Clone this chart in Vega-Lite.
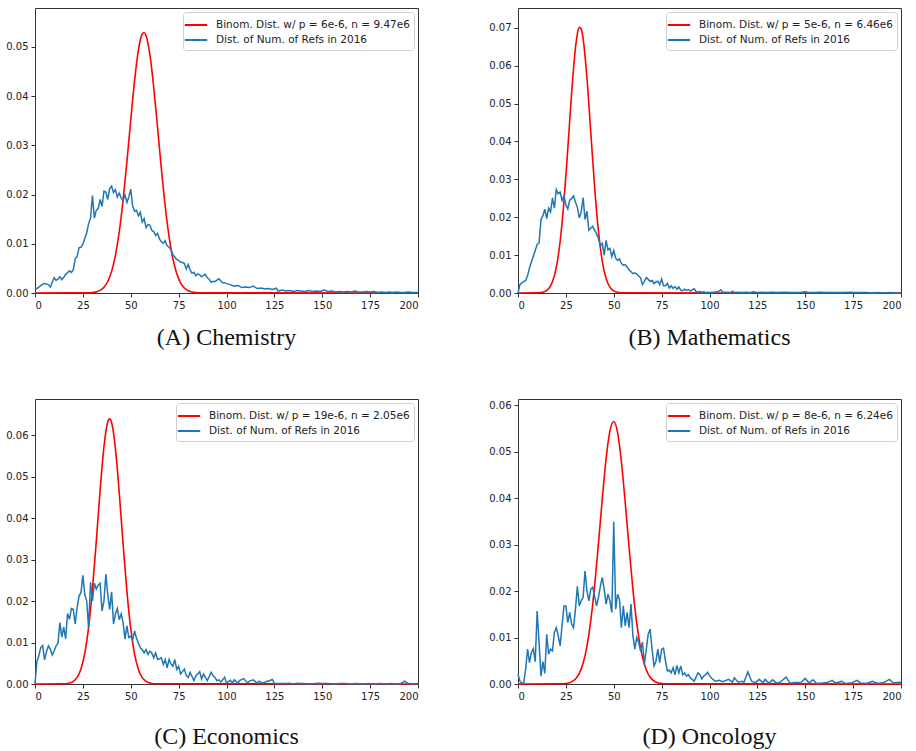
{
"$schema": "https://vega.github.io/schema/vega-lite/v6.json",
"background": "white",
"padding": {"left": 5, "top": 7, "right": 5, "bottom": 2},
"datasets": {
"aRed": [{"k":0,"v":0},{"k":28,"v":0.00004},{"k":30,"v":0.0001},{"k":32,"v":0.00023},{"k":34,"v":0.00054},{"k":36,"v":0.00117},{"k":38,"v":0.00234},{"k":40,"v":0.00439},{"k":42,"v":0.00766},{"k":44,"v":0.01246},{"k":46,"v":0.01889},{"k":48,"v":0.02669},{"k":50,"v":0.03514},{"k":52,"v":0.04314},{"k":54,"v":0.04934},{"k":56,"v":0.05261},{"k":57,"v":0.05291},{"k":58,"v":0.05228},{"k":60,"v":0.04842},{"k":62,"v":0.04179},{"k":64,"v":0.03362},{"k":66,"v":0.02521},{"k":68,"v":0.01762},{"k":70,"v":0.01147},{"k":72,"v":0.00697},{"k":74,"v":0.00394},{"k":76,"v":0.00208},{"k":78,"v":0.00102},{"k":80,"v":0.00047},{"k":82,"v":0.0002},{"k":84,"v":0.00008},{"k":86,"v":0.00003},{"k":200,"v":0}],
"bRed": [{"k":0,"v":0},{"k":12,"v":0.00012},{"k":14,"v":0.00039},{"k":16,"v":0.00115},{"k":18,"v":0.00296},{"k":20,"v":0.00675},{"k":22,"v":0.01359},{"k":24,"v":0.02416},{"k":26,"v":0.03798},{"k":28,"v":0.05273},{"k":30,"v":0.06468},{"k":31,"v":0.06839},{"k":32,"v":0.0701},{"k":33,"v":0.06967},{"k":34,"v":0.06713},{"k":36,"v":0.05679},{"k":38,"v":0.04246},{"k":40,"v":0.02804},{"k":42,"v":0.01636},{"k":44,"v":0.00844},{"k":46,"v":0.00384},{"k":48,"v":0.00154},{"k":50,"v":0.00055},{"k":52,"v":0.00017},{"k":54,"v":0.00005},{"k":200,"v":0}],
"cRed": [{"k":0,"v":0},{"k":16,"v":0.00007},{"k":18,"v":0.00023},{"k":20,"v":0.00064},{"k":22,"v":0.0016},{"k":24,"v":0.00363},{"k":26,"v":0.00743},{"k":28,"v":0.01372},{"k":30,"v":0.02286},{"k":32,"v":0.03438},{"k":34,"v":0.04667},{"k":36,"v":0.05716},{"k":38,"v":0.06318},{"k":39,"v":0.06392},{"k":40,"v":0.06302},{"k":42,"v":0.05673},{"k":44,"v":0.04607},{"k":46,"v":0.03377},{"k":48,"v":0.02234},{"k":50,"v":0.01333},{"k":52,"v":0.00719},{"k":54,"v":0.00349},{"k":56,"v":0.00153},{"k":58,"v":0.00061},{"k":60,"v":0.00022},{"k":62,"v":0.00007},{"k":200,"v":0}],
"dRed": [{"k":0,"v":0},{"k":24,"v":0.00007},{"k":26,"v":0.00018},{"k":28,"v":0.00046},{"k":30,"v":0.00106},{"k":32,"v":0.00227},{"k":34,"v":0.00446},{"k":36,"v":0.00811},{"k":38,"v":0.01361},{"k":40,"v":0.02108},{"k":42,"v":0.03013},{"k":44,"v":0.03975},{"k":46,"v":0.04841},{"k":48,"v":0.05443},{"k":50,"v":0.05647},{"k":52,"v":0.05408},{"k":54,"v":0.0478},{"k":56,"v":0.03899},{"k":58,"v":0.02937},{"k":60,"v":0.02041},{"k":62,"v":0.0131},{"k":64,"v":0.00775},{"k":66,"v":0.00424},{"k":68,"v":0.00214},{"k":70,"v":0.001},{"k":72,"v":0.00043},{"k":74,"v":0.00017},{"k":76,"v":0.00006},{"k":200,"v":0}],
"aBlue": [{"k":0,"v":0.0007},{"k":1,"v":0.0009},{"k":2,"v":0.0012},{"k":3,"v":0.0015},{"k":4,"v":0.0018},{"k":5,"v":0.0019},{"k":6,"v":0.0018},{"k":7,"v":0.0017},{"k":8,"v":0.0012},{"k":9,"v":0.0022},{"k":10,"v":0.0031},{"k":11,"v":0.0026},{"k":12,"v":0.0028},{"k":13,"v":0.0033},{"k":14,"v":0.0027},{"k":15,"v":0.0032},{"k":16,"v":0.0038},{"k":17,"v":0.0041},{"k":18,"v":0.0045},{"k":19,"v":0.0042},{"k":20,"v":0.0047},{"k":21,"v":0.007},{"k":22,"v":0.0074},{"k":23,"v":0.0092},{"k":24,"v":0.0093},{"k":25,"v":0.0099},{"k":26,"v":0.0111},{"k":27,"v":0.0122},{"k":28,"v":0.0141},{"k":29,"v":0.0152},{"k":30,"v":0.0198},{"k":31,"v":0.0152},{"k":32,"v":0.0168},{"k":33,"v":0.0172},{"k":34,"v":0.019},{"k":35,"v":0.0176},{"k":36,"v":0.0207},{"k":37,"v":0.0205},{"k":38,"v":0.019},{"k":39,"v":0.0212},{"k":40,"v":0.0217},{"k":41,"v":0.0204},{"k":42,"v":0.021},{"k":43,"v":0.0195},{"k":44,"v":0.0203},{"k":45,"v":0.0193},{"k":46,"v":0.0188},{"k":47,"v":0.0199},{"k":48,"v":0.0184},{"k":49,"v":0.0195},{"k":50,"v":0.0211},{"k":51,"v":0.0176},{"k":52,"v":0.0166},{"k":53,"v":0.0168},{"k":54,"v":0.0157},{"k":55,"v":0.0164},{"k":56,"v":0.0144},{"k":57,"v":0.0151},{"k":58,"v":0.0133},{"k":59,"v":0.0139},{"k":60,"v":0.0138},{"k":61,"v":0.0127},{"k":62,"v":0.0125},{"k":63,"v":0.0117},{"k":64,"v":0.0121},{"k":65,"v":0.011},{"k":66,"v":0.0104},{"k":67,"v":0.0101},{"k":68,"v":0.0106},{"k":69,"v":0.0096},{"k":70,"v":0.0093},{"k":71,"v":0.0088},{"k":72,"v":0.0078},{"k":73,"v":0.0073},{"k":74,"v":0.0068},{"k":75,"v":0.0066},{"k":76,"v":0.0063},{"k":77,"v":0.0062},{"k":78,"v":0.006},{"k":79,"v":0.0049},{"k":80,"v":0.0058},{"k":81,"v":0.0047},{"k":82,"v":0.004},{"k":83,"v":0.0042},{"k":84,"v":0.0035},{"k":85,"v":0.0039},{"k":86,"v":0.0037},{"k":87,"v":0.0033},{"k":88,"v":0.0036},{"k":89,"v":0.0038},{"k":90,"v":0.0031},{"k":91,"v":0.0028},{"k":92,"v":0.0022},{"k":93,"v":0.0024},{"k":94,"v":0.0023},{"k":95,"v":0.0026},{"k":96,"v":0.0029},{"k":97,"v":0.0025},{"k":98,"v":0.0021},{"k":99,"v":0.0021},{"k":100,"v":0.0019},{"k":102,"v":0.0017},{"k":104,"v":0.0014},{"k":106,"v":0.0015},{"k":108,"v":0.0011},{"k":110,"v":0.0012},{"k":112,"v":0.0011},{"k":114,"v":0.0014},{"k":116,"v":0.0009},{"k":118,"v":0.001},{"k":120,"v":0.0008},{"k":122,"v":0.0009},{"k":124,"v":0.0007},{"k":126,"v":0.001},{"k":127,"v":0.0004},{"k":129,"v":0.0006},{"k":131,"v":0.0004},{"k":133,"v":0.0005},{"k":135,"v":0.0003},{"k":137,"v":0.0005},{"k":139,"v":0.0004},{"k":141,"v":0.0003},{"k":143,"v":0.0005},{"k":145,"v":0.0003},{"k":147,"v":0.0004},{"k":149,"v":0.0003},{"k":151,"v":0.0006},{"k":153,"v":0.0003},{"k":155,"v":0.0004},{"k":157,"v":0.0002},{"k":159,"v":0.0003},{"k":161,"v":0.0002},{"k":163,"v":0.0003},{"k":165,"v":0.0002},{"k":167,"v":0.0004},{"k":169,"v":0.0002},{"k":171,"v":0.0002},{"k":173,"v":0.0003},{"k":175,"v":0.0002},{"k":177,"v":0.0003},{"k":179,"v":0.0001},{"k":181,"v":0.0002},{"k":183,"v":0.0001},{"k":185,"v":0.0002},{"k":187,"v":0.0001},{"k":189,"v":0.0002},{"k":191,"v":0.0001},{"k":193,"v":0.0001},{"k":195,"v":0.0002},{"k":197,"v":0.0001},{"k":199,"v":0.0001},{"k":200,"v":0.0001}],
"bBlue": [{"k":0,"v":0},{"k":1,"v":0.0022},{"k":2,"v":0.0027},{"k":3,"v":0.003},{"k":4,"v":0.0033},{"k":5,"v":0.0046},{"k":6,"v":0.0066},{"k":7,"v":0.0082},{"k":8,"v":0.0097},{"k":9,"v":0.0112},{"k":10,"v":0.0128},{"k":11,"v":0.0132},{"k":12,"v":0.0193},{"k":13,"v":0.0204},{"k":14,"v":0.0221},{"k":15,"v":0.0196},{"k":16,"v":0.0224},{"k":17,"v":0.0214},{"k":18,"v":0.0251},{"k":19,"v":0.0224},{"k":20,"v":0.0273},{"k":21,"v":0.0262},{"k":22,"v":0.0266},{"k":23,"v":0.0244},{"k":24,"v":0.0256},{"k":25,"v":0.0233},{"k":26,"v":0.0222},{"k":27,"v":0.0245},{"k":28,"v":0.0249},{"k":29,"v":0.0256},{"k":30,"v":0.024},{"k":31,"v":0.0226},{"k":32,"v":0.0198},{"k":33,"v":0.0214},{"k":34,"v":0.0252},{"k":35,"v":0.0194},{"k":36,"v":0.0216},{"k":37,"v":0.0166},{"k":38,"v":0.0171},{"k":39,"v":0.0176},{"k":40,"v":0.0166},{"k":41,"v":0.0156},{"k":42,"v":0.0144},{"k":43,"v":0.0124},{"k":44,"v":0.0131},{"k":45,"v":0.01},{"k":46,"v":0.0139},{"k":47,"v":0.0114},{"k":48,"v":0.0118},{"k":49,"v":0.0096},{"k":50,"v":0.0112},{"k":51,"v":0.0092},{"k":52,"v":0.0086},{"k":53,"v":0.009},{"k":54,"v":0.0078},{"k":55,"v":0.0073},{"k":56,"v":0.0075},{"k":57,"v":0.0068},{"k":58,"v":0.0061},{"k":59,"v":0.0056},{"k":60,"v":0.0051},{"k":61,"v":0.0053},{"k":62,"v":0.005},{"k":63,"v":0.0045},{"k":64,"v":0.004},{"k":65,"v":0.0022},{"k":66,"v":0.0031},{"k":67,"v":0.0041},{"k":68,"v":0.0036},{"k":69,"v":0.0031},{"k":70,"v":0.0033},{"k":71,"v":0.0025},{"k":72,"v":0.0029},{"k":73,"v":0.0031},{"k":74,"v":0.0022},{"k":75,"v":0.0037},{"k":76,"v":0.0019},{"k":77,"v":0.0019},{"k":78,"v":0.0025},{"k":79,"v":0.0013},{"k":80,"v":0.0019},{"k":81,"v":0.0012},{"k":82,"v":0.0017},{"k":83,"v":0.001},{"k":84,"v":0.0016},{"k":85,"v":0.0007},{"k":86,"v":0.0006},{"k":87,"v":0.001},{"k":88,"v":0.0007},{"k":89,"v":0.0009},{"k":90,"v":0.0005},{"k":91,"v":0.0008},{"k":92,"v":0.0011},{"k":93,"v":0.0004},{"k":94,"v":0.0003},{"k":95,"v":0.0004},{"k":96,"v":0.0002},{"k":97,"v":0.0003},{"k":98,"v":0.0001},{"k":99,"v":0.0002},{"k":100,"v":0.0001},{"k":102,"v":0.0002},{"k":104,"v":0.0003},{"k":106,"v":0.0008},{"k":107,"v":0.0002},{"k":109,"v":0.0002},{"k":111,"v":0.0001},{"k":112,"v":0.0005},{"k":113,"v":0.0001},{"k":115,"v":0.0002},{"k":117,"v":0.0001},{"k":119,"v":0.0002},{"k":121,"v":0.0001},{"k":123,"v":0.0003},{"k":125,"v":0.0001},{"k":127,"v":0.0002},{"k":130,"v":0.0001},{"k":133,"v":0.0002},{"k":136,"v":0.0001},{"k":139,"v":0.0002},{"k":142,"v":0.0001},{"k":145,"v":0.0001},{"k":148,"v":0.0002},{"k":150,"v":0.0003},{"k":152,"v":0.0001},{"k":155,"v":0.0001},{"k":158,"v":0.0002},{"k":161,"v":0.0001},{"k":164,"v":0.0001},{"k":167,"v":0.0001},{"k":170,"v":0.0001},{"k":173,"v":0.0002},{"k":176,"v":0.0001},{"k":179,"v":0.0001},{"k":182,"v":0.0001},{"k":185,"v":0},{"k":188,"v":0.0001},{"k":191,"v":0},{"k":194,"v":0.0001},{"k":197,"v":0},{"k":200,"v":0}],
"cBlue": [{"k":0,"v":0},{"k":1,"v":0.0055},{"k":2,"v":0.0068},{"k":3,"v":0.0088},{"k":4,"v":0.0093},{"k":5,"v":0.0058},{"k":6,"v":0.0078},{"k":7,"v":0.0092},{"k":8,"v":0.0084},{"k":9,"v":0.007},{"k":10,"v":0.008},{"k":11,"v":0.0092},{"k":12,"v":0.0098},{"k":13,"v":0.0148},{"k":14,"v":0.0113},{"k":15,"v":0.0137},{"k":16,"v":0.0109},{"k":17,"v":0.017},{"k":18,"v":0.0156},{"k":19,"v":0.0182},{"k":20,"v":0.018},{"k":21,"v":0.0145},{"k":22,"v":0.0184},{"k":23,"v":0.0212},{"k":24,"v":0.022},{"k":25,"v":0.0262},{"k":26,"v":0.0215},{"k":27,"v":0.02},{"k":28,"v":0.0135},{"k":29,"v":0.0245},{"k":30,"v":0.02},{"k":31,"v":0.0243},{"k":32,"v":0.0229},{"k":33,"v":0.0238},{"k":34,"v":0.0243},{"k":35,"v":0.0176},{"k":36,"v":0.02},{"k":37,"v":0.0265},{"k":38,"v":0.0215},{"k":39,"v":0.018},{"k":40,"v":0.0222},{"k":41,"v":0.0145},{"k":42,"v":0.0169},{"k":43,"v":0.0182},{"k":44,"v":0.0155},{"k":45,"v":0.0169},{"k":46,"v":0.0148},{"k":47,"v":0.0108},{"k":48,"v":0.014},{"k":49,"v":0.0112},{"k":50,"v":0.0115},{"k":51,"v":0.0106},{"k":52,"v":0.0128},{"k":53,"v":0.011},{"k":54,"v":0.0099},{"k":55,"v":0.0087},{"k":56,"v":0.0083},{"k":57,"v":0.0075},{"k":58,"v":0.0083},{"k":59,"v":0.0071},{"k":60,"v":0.0079},{"k":61,"v":0.0075},{"k":62,"v":0.0063},{"k":63,"v":0.0075},{"k":64,"v":0.0059},{"k":65,"v":0.0061},{"k":66,"v":0.0063},{"k":67,"v":0.0047},{"k":68,"v":0.0059},{"k":69,"v":0.0039},{"k":70,"v":0.0059},{"k":71,"v":0.0048},{"k":72,"v":0.0043},{"k":73,"v":0.0059},{"k":74,"v":0.0035},{"k":75,"v":0.0043},{"k":76,"v":0.0024},{"k":77,"v":0.003},{"k":78,"v":0.0036},{"k":79,"v":0.002},{"k":80,"v":0.0016},{"k":81,"v":0.0028},{"k":82,"v":0.0018},{"k":83,"v":0.0008},{"k":84,"v":0.002},{"k":85,"v":0.0024},{"k":86,"v":0.003},{"k":87,"v":0.0012},{"k":88,"v":0.0024},{"k":89,"v":0.0016},{"k":90,"v":0.0008},{"k":91,"v":0.0018},{"k":92,"v":0.0028},{"k":93,"v":0.002},{"k":94,"v":0.0016},{"k":95,"v":0.0008},{"k":96,"v":0.001},{"k":97,"v":0.0005},{"k":98,"v":0.001},{"k":99,"v":0.0016},{"k":100,"v":0.0003},{"k":102,"v":0.0009},{"k":103,"v":0.0003},{"k":104,"v":0.001},{"k":106,"v":0.0002},{"k":107,"v":0.0009},{"k":109,"v":0.0013},{"k":111,"v":0.0002},{"k":112,"v":0.0007},{"k":114,"v":0.001},{"k":116,"v":0.0002},{"k":117,"v":0.0007},{"k":119,"v":0.0002},{"k":121,"v":0.0006},{"k":123,"v":0.0009},{"k":124,"v":0.0011},{"k":125,"v":0.0001},{"k":128,"v":0.0001},{"k":131,"v":0.0001},{"k":133,"v":0.0002},{"k":135,"v":0},{"k":137,"v":0.0002},{"k":140,"v":0.0001},{"k":143,"v":0},{"k":146,"v":0.0001},{"k":148,"v":0.0002},{"k":150,"v":0.0001},{"k":153,"v":0.0001},{"k":156,"v":0},{"k":159,"v":0.0001},{"k":162,"v":0.0001},{"k":165,"v":0},{"k":168,"v":0.0001},{"k":171,"v":0},{"k":174,"v":0.0001},{"k":177,"v":0},{"k":180,"v":0.0001},{"k":183,"v":0},{"k":186,"v":0.0001},{"k":189,"v":0},{"k":191,"v":0.0001},{"k":193,"v":0.0007},{"k":195,"v":0.0001},{"k":197,"v":0},{"k":200,"v":0.0001}],
"dBlue": [{"k":0,"v":0.0021},{"k":1,"v":0.0006},{"k":2,"v":0.0002},{"k":3,"v":0.0003},{"k":4,"v":0.0032},{"k":5,"v":0.0075},{"k":6,"v":0.0046},{"k":7,"v":0.0068},{"k":8,"v":0.0076},{"k":9,"v":0.0048},{"k":10,"v":0.0157},{"k":11,"v":0.009},{"k":12,"v":0.0017},{"k":13,"v":0.0048},{"k":14,"v":0.0023},{"k":15,"v":0.0107},{"k":16,"v":0.0064},{"k":17,"v":0.0075},{"k":18,"v":0.0071},{"k":19,"v":0.0111},{"k":20,"v":0.0121},{"k":21,"v":0.0104},{"k":22,"v":0.0082},{"k":23,"v":0.0125},{"k":24,"v":0.0168},{"k":25,"v":0.0168},{"k":26,"v":0.0132},{"k":27,"v":0.0154},{"k":28,"v":0.0129},{"k":29,"v":0.0121},{"k":30,"v":0.0161},{"k":31,"v":0.021},{"k":32,"v":0.0168},{"k":33,"v":0.0179},{"k":34,"v":0.0186},{"k":35,"v":0.0243},{"k":36,"v":0.02},{"k":37,"v":0.0179},{"k":38,"v":0.0204},{"k":39,"v":0.0208},{"k":40,"v":0.0189},{"k":41,"v":0.0168},{"k":42,"v":0.0186},{"k":43,"v":0.021},{"k":44,"v":0.0229},{"k":45,"v":0.0204},{"k":46,"v":0.0172},{"k":47,"v":0.0193},{"k":48,"v":0.0179},{"k":49,"v":0.0154},{"k":50,"v":0.0349},{"k":51,"v":0.0161},{"k":52,"v":0.0193},{"k":53,"v":0.0182},{"k":54,"v":0.0121},{"k":55,"v":0.0168},{"k":56,"v":0.0125},{"k":57,"v":0.0154},{"k":58,"v":0.0121},{"k":59,"v":0.0172},{"k":60,"v":0.0104},{"k":61,"v":0.0075},{"k":62,"v":0.01},{"k":63,"v":0.009},{"k":64,"v":0.0071},{"k":65,"v":0.009},{"k":66,"v":0.0042},{"k":67,"v":0.0075},{"k":68,"v":0.0107},{"k":69,"v":0.0118},{"k":70,"v":0.0075},{"k":71,"v":0.0039},{"k":72,"v":0.0048},{"k":73,"v":0.0075},{"k":74,"v":0.0046},{"k":75,"v":0.0075},{"k":76,"v":0.0077},{"k":77,"v":0.005},{"k":78,"v":0.0028},{"k":79,"v":0.003},{"k":80,"v":0.0024},{"k":81,"v":0.0035},{"k":82,"v":0.002},{"k":83,"v":0.004},{"k":84,"v":0.0024},{"k":85,"v":0.0039},{"k":86,"v":0.002},{"k":87,"v":0.0024},{"k":88,"v":0.0017},{"k":89,"v":0.002},{"k":90,"v":0.0013},{"k":91,"v":0.001},{"k":92,"v":0.0006},{"k":93,"v":0.0015},{"k":94,"v":0.0024},{"k":95,"v":0.002},{"k":96,"v":0.0011},{"k":97,"v":0.0017},{"k":98,"v":0.002},{"k":99,"v":0.0025},{"k":100,"v":0.0018},{"k":101,"v":0.0013},{"k":103,"v":0.0006},{"k":105,"v":0.0008},{"k":107,"v":0.0005},{"k":110,"v":0.001},{"k":112,"v":0.0004},{"k":113,"v":0.0013},{"k":115,"v":0.0004},{"k":117,"v":0.0006},{"k":118,"v":0.0004},{"k":120,"v":0.0026},{"k":122,"v":0.0006},{"k":124,"v":0.0003},{"k":126,"v":0.001},{"k":128,"v":0.0002},{"k":129,"v":0.001},{"k":131,"v":0.0002},{"k":133,"v":0.0009},{"k":135,"v":0.0002},{"k":137,"v":0.0004},{"k":140,"v":0.0015},{"k":142,"v":0.0002},{"k":145,"v":0.0003},{"k":148,"v":0.0004},{"k":150,"v":0.0012},{"k":152,"v":0.0002},{"k":154,"v":0.0009},{"k":156,"v":0.0001},{"k":159,"v":0.0002},{"k":162,"v":0.0004},{"k":164,"v":0.0008},{"k":166,"v":0.0002},{"k":169,"v":0.0006},{"k":171,"v":0.0001},{"k":174,"v":0.0002},{"k":177,"v":0.0008},{"k":179,"v":0.0002},{"k":182,"v":0.0001},{"k":185,"v":0.0006},{"k":188,"v":0.0001},{"k":191,"v":0.0003},{"k":194,"v":0.001},{"k":196,"v":0.0002},{"k":198,"v":0.0003},{"k":200,"v":0.0004}]
},
"columns": 2,
"spacing": {"row": 47, "column": 66},
"resolve": {"scale": {"color": "independent", "y": "independent", "x": "independent"}, "legend": {"color": "independent"}},
"concat": [
{
"width": 383, "height": 285,
"title": {"text": "(A) Chemistry"},
"layer": [
{"data": {"name": "aRed"}, "mark": {"type": "line", "interpolate": "monotone", "strokeWidth": 1.6},
 "encoding": {
  "x": {"field": "k", "type": "quantitative", "scale": {"domain": [0, 200], "nice": false}, "axis": {"values": [0,25,50,75,100,125,150,175,200], "title": null}},
  "y": {"field": "v", "type": "quantitative", "scale": {"domain": [0, 0.0579], "nice": false}, "axis": {"values": [0,0.01,0.02,0.03,0.04,0.05], "format": ".2f", "title": null}},
  "color": {"datum": "Binom. Dist. w/ p = 6e-6, n = 9.47e6", "type": "nominal", "scale": {"domain": ["Binom. Dist. w/ p = 6e-6, n = 9.47e6", "Dist. of Num. of Refs in 2016"], "range": ["#ff0000", "#1f77b4"]}, "legend": {"title": null}}
 }},
{"data": {"name": "aBlue"}, "mark": {"type": "line", "strokeWidth": 1.5},
 "encoding": {
  "x": {"field": "k", "type": "quantitative"},
  "y": {"field": "v", "type": "quantitative"},
  "color": {"datum": "Dist. of Num. of Refs in 2016", "type": "nominal"}
 }}
]
},
{
"width": 383, "height": 285,
"title": {"text": "(B) Mathematics"},
"layer": [
{"data": {"name": "bRed"}, "mark": {"type": "line", "interpolate": "monotone", "strokeWidth": 1.6},
 "encoding": {
  "x": {"field": "k", "type": "quantitative", "scale": {"domain": [0, 200], "nice": false}, "axis": {"values": [0,25,50,75,100,125,150,175,200], "title": null}},
  "y": {"field": "v", "type": "quantitative", "scale": {"domain": [0, 0.0752], "nice": false}, "axis": {"values": [0,0.01,0.02,0.03,0.04,0.05,0.06,0.07], "format": ".2f", "title": null}},
  "color": {"datum": "Binom. Dist. w/ p = 5e-6, n = 6.46e6", "type": "nominal", "scale": {"domain": ["Binom. Dist. w/ p = 5e-6, n = 6.46e6", "Dist. of Num. of Refs in 2016"], "range": ["#ff0000", "#1f77b4"]}, "legend": {"title": null}}
 }},
{"data": {"name": "bBlue"}, "mark": {"type": "line", "strokeWidth": 1.5},
 "encoding": {
  "x": {"field": "k", "type": "quantitative"},
  "y": {"field": "v", "type": "quantitative"},
  "color": {"datum": "Dist. of Num. of Refs in 2016", "type": "nominal"}
 }}
]
},
{
"width": 383, "height": 285,
"title": {"text": "(C) Economics", "offset": 24},
"layer": [
{"data": {"name": "cRed"}, "mark": {"type": "line", "interpolate": "monotone", "strokeWidth": 1.6},
 "encoding": {
  "x": {"field": "k", "type": "quantitative", "scale": {"domain": [0, 200], "nice": false}, "axis": {"values": [0,25,50,75,100,125,150,175,200], "title": null}},
  "y": {"field": "v", "type": "quantitative", "scale": {"domain": [0, 0.0687], "nice": false}, "axis": {"values": [0,0.01,0.02,0.03,0.04,0.05,0.06], "format": ".2f", "title": null}},
  "color": {"datum": "Binom. Dist. w/ p = 19e-6, n = 2.05e6", "type": "nominal", "scale": {"domain": ["Binom. Dist. w/ p = 19e-6, n = 2.05e6", "Dist. of Num. of Refs in 2016"], "range": ["#ff0000", "#1f77b4"]}, "legend": {"title": null}}
 }},
{"data": {"name": "cBlue"}, "mark": {"type": "line", "strokeWidth": 1.5},
 "encoding": {
  "x": {"field": "k", "type": "quantitative"},
  "y": {"field": "v", "type": "quantitative"},
  "color": {"datum": "Dist. of Num. of Refs in 2016", "type": "nominal"}
 }}
]
},
{
"width": 383, "height": 285,
"title": {"text": "(D) Oncology", "offset": 24},
"layer": [
{"data": {"name": "dRed"}, "mark": {"type": "line", "interpolate": "monotone", "strokeWidth": 1.6},
 "encoding": {
  "x": {"field": "k", "type": "quantitative", "scale": {"domain": [0, 200], "nice": false}, "axis": {"values": [0,25,50,75,100,125,150,175,200], "title": null}},
  "y": {"field": "v", "type": "quantitative", "scale": {"domain": [0, 0.0613], "nice": false}, "axis": {"values": [0,0.01,0.02,0.03,0.04,0.05,0.06], "format": ".2f", "title": null}},
  "color": {"datum": "Binom. Dist. w/ p = 8e-6, n = 6.24e6", "type": "nominal", "scale": {"domain": ["Binom. Dist. w/ p = 8e-6, n = 6.24e6", "Dist. of Num. of Refs in 2016"], "range": ["#ff0000", "#1f77b4"]}, "legend": {"title": null}}
 }},
{"data": {"name": "dBlue"}, "mark": {"type": "line", "strokeWidth": 1.5},
 "encoding": {
  "x": {"field": "k", "type": "quantitative"},
  "y": {"field": "v", "type": "quantitative"},
  "color": {"datum": "Dist. of Num. of Refs in 2016", "type": "nominal"}
 }}
]
}
],
"config": {
 "view": {"stroke": "#333333", "strokeWidth": 1},
 "axis": {"labelFont": "DejaVu Sans", "labelFontSize": 10, "labelColor": "#222222", "tickColor": "#333333", "tickSize": 4, "domain": false, "grid": false, "labelPadding": 3},
 "legend": {"orient": "top-right", "offset": 4, "labelFont": "DejaVu Sans", "labelFontSize": 10.5, "labelColor": "#222222", "symbolType": "M-1.4,0H1.4", "symbolStrokeWidth": 2, "symbolSize": 256, "strokeColor": "#d0d0d0", "fillColor": "white", "padding": 4, "cornerRadius": 3, "rowPadding": 0, "labelLimit": 400, "labelOffset": 11},
 "title": {"font": "Liberation Serif", "fontSize": 24, "fontWeight": "normal", "color": "#111111", "orient": "bottom", "offset": 16, "anchor": "middle"}
}
}
